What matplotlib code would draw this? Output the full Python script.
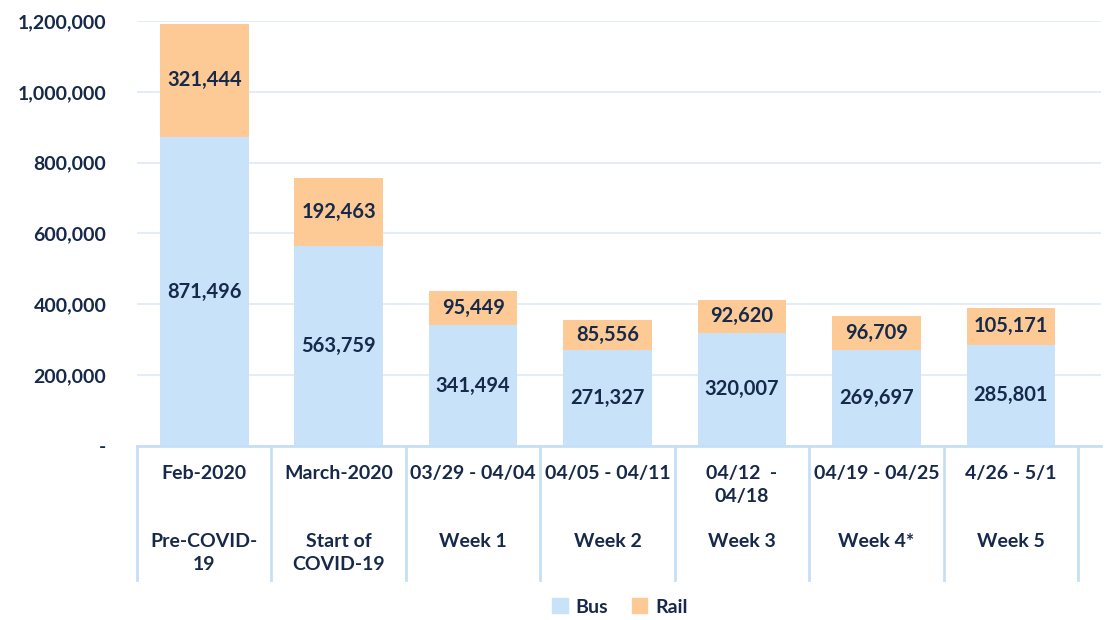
import numpy as np
import matplotlib.pyplot as plt
from matplotlib.patches import Patch

plt.rcParams['font.family'] = ['Lato', 'DejaVu Sans']

# data
dates = ['Feb-2020', 'March-2020', '03/29 - 04/04', '04/05 - 04/11',
         '04/12  -\n04/18', '04/19 - 04/25', '4/26 - 5/1']
periods = ['Pre-COVID-\n19', 'Start of\nCOVID-19', 'Week 1', 'Week 2',
           'Week 3', 'Week 4*', 'Week 5']
bus = [871496, 563759, 341494, 271327, 320007, 269697, 285801]
rail = [321444, 192463, 95449, 85556, 92620, 96709, 105171]

bus_c = '#c8e2fa'
rail_c = '#fdca96'
txt_c = '#16294a'
line_c = '#c5dff7'

fig = plt.figure(figsize=(11.07, 6.2), dpi=100)
ax = fig.add_axes([137/1107, 1-446/620, (1101-137)/1107, (446-21)/620])

x = np.arange(len(bus))
bus = np.array(bus)
rail = np.array(rail)
ax.bar(x, bus, width=0.66, color=bus_c, zorder=2)
ax.bar(x, rail, width=0.66, bottom=bus, color=rail_c, zorder=2)

for i in range(len(x)):
    ax.text(x[i], bus[i]/2, f'{bus[i]:,}', ha='center', va='center',
            fontsize=14.5, fontweight='bold', color=txt_c, zorder=3)
    ax.text(x[i], bus[i] + rail[i]/2, f'{rail[i]:,}', ha='center', va='center',
            fontsize=14.5, fontweight='bold', color=txt_c, zorder=3)

ax.set_xlim(-0.5, 6.67)
ax.set_ylim(0, 1200000)
yt = np.arange(0, 1200001, 200000)
ax.set_yticks(yt)
ax.set_yticklabels(['-'] + [f'{v:,}' for v in yt[1:]])
ax.tick_params(axis='y', length=0, pad=22, labelsize=14, labelcolor=txt_c)
for lab in ax.get_yticklabels():
    lab.set_fontweight('bold')
ax.set_xticks([])
ax.grid(axis='y', color='#e0ecf9', lw=1.3, zorder=0)
for s in ['top', 'right', 'left']:
    ax.spines[s].set_visible(False)
ax.spines['bottom'].set_color(line_c)
ax.spines['bottom'].set_linewidth(2)

# table under the axis
tr = ax.get_xaxis_transform()
for b in np.arange(-0.5, 7.0, 1.0):
    ax.plot([b, b], [0, -0.315], transform=tr, color=line_c, lw=2, clip_on=False)
for i in range(len(x)):
    ax.text(x[i], -0.044, dates[i], transform=tr, ha='center', va='top',
            fontsize=14, fontweight='bold', color=txt_c, linespacing=1.45)
    ax.text(x[i], -0.204, periods[i], transform=tr, ha='center', va='top',
            fontsize=14, fontweight='bold', color=txt_c, linespacing=1.45)

handles = [Patch(color=bus_c, label='Bus'), Patch(color=rail_c, label='Rail')]
leg = fig.legend(handles=handles, loc='center', bbox_to_anchor=(0.56, 0.021),
                 ncol=2, frameon=False, fontsize=14, handlelength=0.8,
                 handleheight=0.8, columnspacing=1.2, handletextpad=0.4)
for t in leg.get_texts():
    t.set_color(txt_c)
    t.set_fontweight('bold')

fig.savefig('out.png', dpi=100)
